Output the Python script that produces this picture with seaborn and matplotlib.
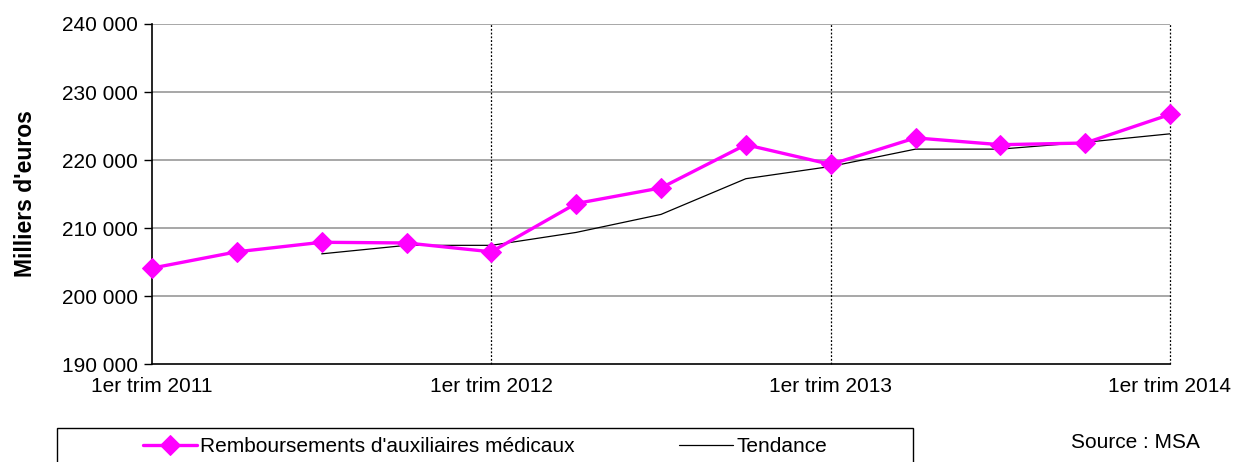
import numpy as np
import pandas as pd
import matplotlib
matplotlib.use("Agg")
import matplotlib.pyplot as plt
import seaborn as sns
from matplotlib.patches import Rectangle
from matplotlib.ticker import FuncFormatter

# trimestres du 1er trim 2011 au 1er trim 2014
trimestres = list(range(13))
etiquettes = ["1er trim 2011", "1er trim 2012", "1er trim 2013", "1er trim 2014"]
remboursements = [204100, 206500, 207900, 207800, 206500, 213600, 215900,
                  222250, 219350, 223250, 222250, 222500, 226700]
tendance = [np.nan, np.nan, 206200, 207450, 207450, 209350, 212000,
            217250, 219050, 221600, 221600, 222600, 223850]

df = pd.DataFrame({"trim": trimestres, "remb": remboursements, "tend": tendance})

sns.set_style("white")
plt.rcParams["font.family"] = ["Liberation Sans", "DejaVu Sans"]
plt.rcParams["text.color"] = "black"
plt.rcParams["xtick.color"] = "black"
plt.rcParams["ytick.color"] = "black"
plt.rcParams["axes.labelcolor"] = "black"

fig = plt.figure(figsize=(12.35, 4.62), dpi=100)
ax = fig.add_axes([152 / 1235, 1 - 364 / 462, (1170 - 152) / 1235, (364 - 24) / 462])

ax.set_ylim(190000, 240000)
ax.set_xlim(0, 12)
ax.set_yticks(range(190000, 240001, 10000))
for v in range(200000, 240001, 10000):
    ax.axhline(v, color="#a0a0a0", lw=1.3, zorder=0)
for v in [4, 8, 12]:
    ax.axvline(v, color="black", lw=0.9, ls=(0, (1.5, 1.5)), zorder=0, clip_on=False)

sns.lineplot(data=df, x="trim", y="tend", color="black", lw=0.9, ax=ax,
             label="Tendance", zorder=2)
sns.lineplot(data=df, x="trim", y="remb", color="#ff00ff", lw=2.4, marker="D",
             markersize=10, markeredgecolor="#ff00ff", ax=ax,
             label="Remboursements d'auxiliaires médicaux", zorder=3, clip_on=False)

ax.set_xticks([0, 4, 8, 12])
ax.set_xticklabels(etiquettes)
ax.yaxis.set_major_formatter(FuncFormatter(lambda v, p: f"{int(v):,}".replace(",", " ")))
ax.tick_params(axis="y", length=6, width=1, labelsize=15, pad=4, left=True)
ax.tick_params(axis="x", length=0, labelsize=15, pad=9)
ax.set_xlabel("")
ax.set_ylabel("Milliers d'euros", fontsize=16.5, fontweight="bold", labelpad=18)

for s in ["top", "right"]:
    ax.spines[s].set_visible(False)
for s in ["left", "bottom"]:
    ax.spines[s].set_color("black")
    ax.spines[s].set_linewidth(1.2)

h, l = ax.get_legend_handles_labels()
ax.get_legend().remove()
fig.patches.append(Rectangle((57 / 1235, -0.05), (913 - 57) / 1235, 1 - 428 / 462 + 0.05,
                             transform=fig.transFigure, fill=False, ec="black", lw=1))
fig.legend(h[::-1], l[::-1], loc="center", bbox_to_anchor=(485 / 1235, 1 - 447 / 462),
           ncol=2, frameon=False, fontsize=15, handlelength=2.6, handletextpad=0.15,
           columnspacing=5)
fig.text(1135 / 1235, 1 - 442 / 462, "Source : MSA", fontsize=15, ha="center", va="center")

fig.savefig("out.png", dpi=100)
